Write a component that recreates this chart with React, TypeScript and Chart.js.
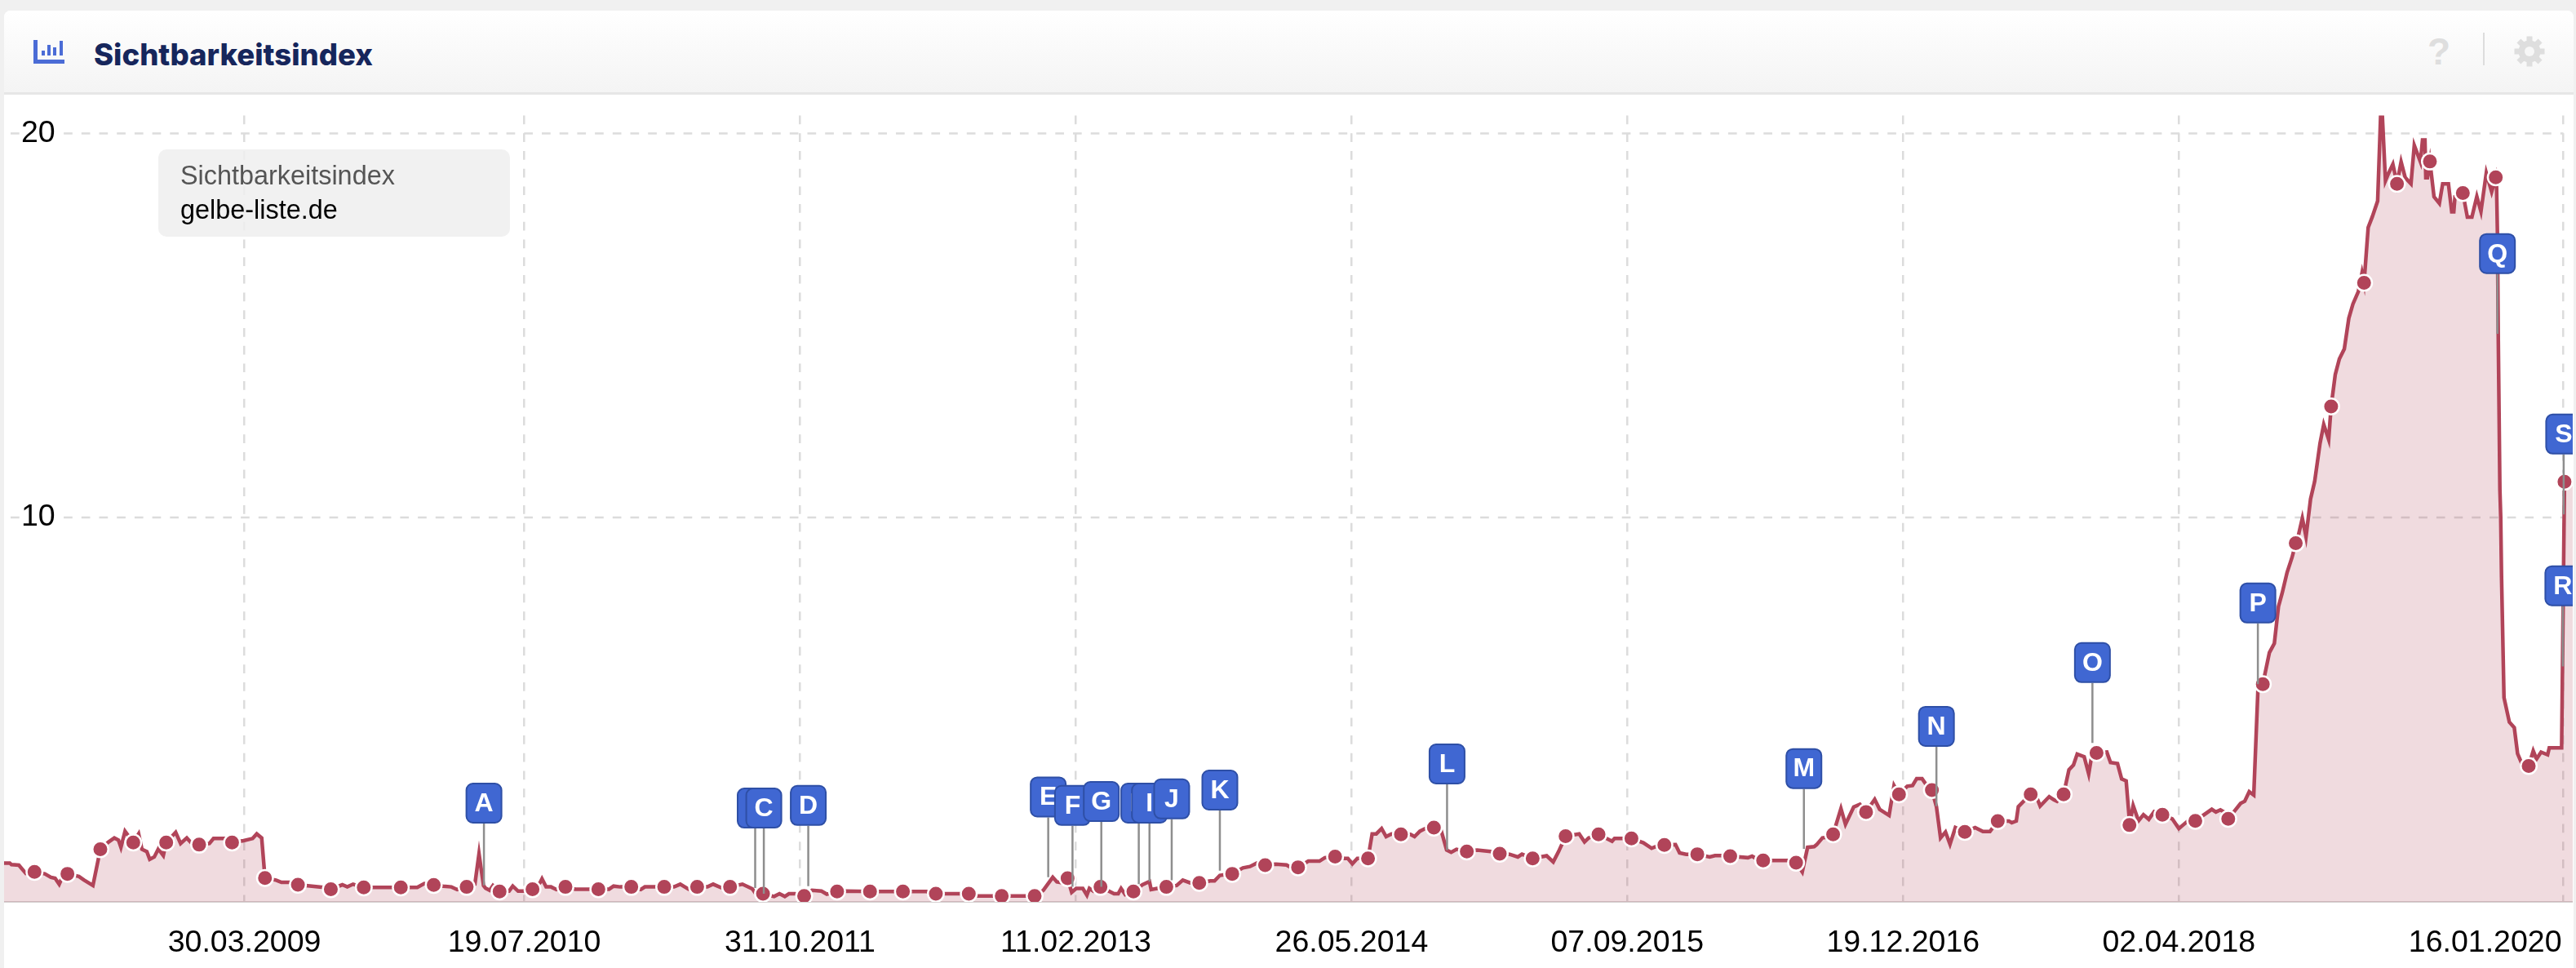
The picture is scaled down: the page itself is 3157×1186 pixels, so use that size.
import React, { useEffect, useRef } from "react";
import { Chart, registerables } from "chart.js";

Chart.register(...registerables);

const TITLE = "Sichtbarkeitsindex";
const DOMAIN = "gelbe-liste.de";
const tickLabels = ["30.03.2009", "19.07.2010", "31.10.2011", "11.02.2013", "26.05.2014", "07.09.2015", "19.12.2016", "02.04.2018", "16.01.2020"];
const yTicks = [10, 20];

// weeks counted from the Monday 30.03.2009
const weeksA = [-59, -58.4, -57, -56.6, -54.8, -53.1, -48.5, -47, -46, -45, -44.3, -40.2, -39, -36.8, -33, -31.6, -30.6, -30, -29, -25.7, -24.9, -23.7, -23, -21.9, -20.9, -19.7, -16.7, -15.5, -14, -13, -8.5, -7.5, -4.5, -0.2, 2, 3, 4.2, 7.7, 9, 11, 19.3, 23.8, 25, 26.4, 42, 43.7];
const valuesA = [1, 1, 1, 0.96, 0.947, 0.73, 0.72, 0.63, 0.605, 0.45, 0.62, 0.65, 0.56, 0.415, 1.55, 1.655, 1.6, 1.41, 1.83, 1.76, 1.36, 1.3, 1.1, 1.16, 1.37, 1.195, 1.8, 1.51, 1.655, 1.535, 1.51, 1.64, 1.64, 1.585, 1.64, 1.76, 1.655, 0.555, 0.5, 0.5, 0.365, 0.435, 0.38, 0.45, 0.365, 0.465];
const weeksB = [48.3, 50.3, 51.7, 56, 57, 58.1, 58.6, 59.6, 60.4, 64.3, 65.2, 66.5, 67.7, 71.8, 72.3, 73.3, 74.5, 75.8, 80.4, 83.7, 88.6, 89.7, 91.3, 96.3, 97.3, 104.4, 105.9, 107.9, 112.5, 113.9, 115.8, 121, 123.4, 124.7, 128.7, 130, 131.3, 132.3, 133.8, 137.9, 140.2, 141.5, 146.2];
const valuesB = [0.4, 0.38, 0.31, 0.45, 1.245, 0.415, 0.345, 0.29, 0.415, 0.27, 0.4, 0.27, 0.27, 0.485, 0.59, 0.38, 0.38, 0.31, 0.32, 0.32, 0.32, 0.4, 0.38, 0.31, 0.38, 0.38, 0.45, 0.32, 0.38, 0.45, 0.36, 0.45, 0.33, 0.13, 0.13, 0.2, 0.13, 0.2, 0.2, 0.29, 0.27, 0.19, 0.27];
const weeksC = [165.7, 170.3, 178.2, 189.8, 194.1, 196.4, 197.4, 198.7, 201, 202.1, 203.7, 204.7, 205.3, 206.3, 211.3, 212.3, 213, 214, 218.2, 219.9, 220.3, 221.8, 226.5, 228, 229.8, 234.7, 235.7, 237, 238.4, 242.6, 244.3, 246];
const valuesC = [0.26, 0.2, 0.145, 0.145, 0.29, 0.63, 0.51, 0.485, 0.24, 0.34, 0.34, 0.165, 0.34, 0.27, 0.2, 0.2, 0.34, 0.18, 0.435, 0.52, 0.31, 0.34, 0.415, 0.555, 0.485, 0.535, 0.535, 0.68, 0.7, 0.875, 0.91, 1.0];
const weeksD = [250.6, 253.2, 254.2, 258.5, 261.2, 262.5, 267.3, 268.1, 269.2, 270.4, 274, 275, 276.3, 277.4, 278.7, 283.3, 284.3, 285.6, 286.9, 290.5, 292.1, 293.2, 294.5, 299.5, 302.8, 307.4, 309.4, 310.4, 316.4, 318, 319.3, 324.3, 325.6, 326.6, 332.3, 332.9, 339.9, 341.9, 343.2, 347.7, 348.7, 350.3];
const valuesD = [0.97, 0.95, 0.89, 1.05, 1.05, 1.14, 1.12, 1.12, 0.98, 1.12, 1.76, 1.76, 1.9, 1.69, 1.76, 1.75, 1.69, 1.83, 1.9, 1.95, 1.34, 1.28, 1.36, 1.34, 1.3, 1.23, 1.16, 1.23, 1.19, 1.03, 1.3, 1.76, 1.55, 1.655, 1.57, 1.64, 1.53, 1.385, 1.44, 1.48, 1.265, 1.23];
const weeksE = [356, 357.3, 358.7, 365.3, 366.3, 367.3, 372.9, 375.2, 376.5, 378.5, 379.8, 381.4, 382, 383.4, 384.4, 387.9, 389, 391, 392.5, 396.1, 397.3, 399.6, 400.8, 404, 405.3, 406.3, 407.6, 408.9, 411.1, 412.1, 413.3, 414.4, 415.7, 420.5, 422.4, 424.1, 428.7, 429.4, 430.5, 431, 432.3, 435.7, 436.3, 438.5, 439.6, 440.4, 443.3, 444.4, 445.3, 447, 448.1, 448.9, 452.5, 453.4, 455.1, 456.1, 457.2, 457.9];
const valuesE = [1.16, 1.195, 1.195, 1.14, 1.18, 1.12, 1.07, 1.07, 0.945, 0.77, 1.41, 1.43, 1.48, 1.655, 1.67, 2.42, 2.01, 2.46, 2.53, 2.66, 2.4, 2.24, 3.02, 3, 3.02, 3.2, 3.2, 3, 2.47, 1.655, 1.81, 1.49, 1.925, 1.925, 1.82, 1.82, 2.095, 2.05, 2.095, 2.47, 2.61, 2.65, 2.485, 2.73, 2.65, 2.61, 3.43, 3.555, 3.84, 3.77, 3.32, 3.84, 3.89, 3.62, 3.59, 3.19, 3.14, 2.22];
const weeksF = [458.9, 460.2, 461.4, 462.7, 464, 468.4, 470, 472, 478, 479, 480.1, 481, 485, 486, 487.1, 488.2, 489.2, 492, 493.2, 494.2, 495.1, 496.3, 497.5, 499.1, 500, 500.9, 502, 503, 504.3, 505.2, 506.4, 508, 509, 510.2, 511.3, 512.3, 513.6, 514.5, 516, 517, 518.3];
const valuesF = [2.5, 2.1, 2.26, 2.14, 2.34, 2.15, 1.9, 2.08, 2.4, 2.33, 2.385, 2.33, 2.555, 2.61, 2.86, 2.77, 5.48, 6.48, 6.72, 7.68, 8.03, 8.57, 8.96, 9.56, 9.98, 9.5, 10.48, 10.94, 11.93, 12.42, 12.03, 13.72, 14.13, 14.39, 15.19, 15.56, 15.88, 16.37, 17.55, 17.83, 18.24];
const weeksG = [519.2, 520.2, 520.9, 522, 522.7, 524, 525, 526.4, 527.2, 528.7, 529.2, 529.8, 530, 530.4, 532, 533.3, 534.1, 535.5, 536.3, 536.8, 537.1, 540.1, 541.2, 542.4, 543.4, 544.7, 546, 547.2, 547.4, 547.6, 548, 548.2, 548.4, 549, 550.3, 551.5, 552.3, 553.3, 556.1, 556.9, 558, 559.6, 560, 563, 566];
const valuesG = [21, 18.77, 18.95, 19.2, 18.85, 19.26, 18.85, 18.69, 19.69, 19.26, 19.83, 19.83, 18.85, 18.85, 18.35, 18.18, 18.69, 18.69, 17.96, 17.96, 18.36, 17.82, 17.82, 18.36, 17.97, 18.97, 18.48, 18.6, 17.43, 14.78, 10.73, 10.02, 8.46, 5.31, 4.67, 4.53, 3.85, 3.6, 3.92, 3.71, 3.89, 3.82, 4, 4, 10.9];

const markerWeeks = [-51, -43, -35, -27, -19, -11, -3, 5, 13, 21, 29, 38, 46, 54, 62, 70, 78, 86, 94, 102, 110, 118, 126, 136, 144, 152, 160, 168, 176, 184, 192, 200, 208, 216, 224, 232, 240, 248, 256, 265, 273, 281, 289, 297, 305, 313, 321, 329, 337, 345, 353, 361, 369, 377, 386, 394, 402, 410, 418, 426, 434, 442, 450, 458, 466, 474, 482, 490.4, 498.4, 507, 515, 523, 531, 539, 547, 555, 563.7];
const markerValues = [0.77, 0.72, 1.36, 1.535, 1.535, 1.48, 1.535, 0.61, 0.435, 0.32, 0.365, 0.365, 0.43, 0.38, 0.26, 0.32, 0.38, 0.32, 0.38, 0.38, 0.38, 0.38, 0.2, 0.145, 0.26, 0.26, 0.26, 0.2, 0.2, 0.145, 0.145, 0.605, 0.38, 0.26, 0.38, 0.485, 0.72, 0.945, 0.89, 1.17, 1.12, 1.75, 1.925, 1.3, 1.245, 1.12, 1.7, 1.75, 1.64, 1.47, 1.23, 1.18, 1.067, 1.01, 1.75, 2.33, 2.79, 2.9, 1.81, 2.095, 2.79, 2.79, 3.87, 1.99, 2.26, 2.1, 2.15, 5.66, 9.33, 12.89, 16.11, 18.69, 19.27, 18.45, 18.86, 3.53, 10.93];

const flagLetters = ["A", "B", "C", "D", "E", "F", "G", "H", "I", "J", "K", "L", "M", "N", "O", "P", "Q", "R", "S"];
const flagWeeks = [58.2, 124.1, 126.2, 137, 195.3, 201.2, 208.2, 217.3, 219.9, 225.3, 237, 292.2, 378.9, 411.1, 449, 489.2, 547.4, 563.3, 563.5];
const flagBases = [0.42, 0.35, 0.2, 0.4, 0.63, 0.38, 0.38, 0.45, 0.52, 0.555, 0.8, 1.34, 1.37, 2.48, 4.13, 5.66, 14.78, 6.12, 10.08];
const flagLevels = [2.03, 1.9, 1.9, 1.97, 2.19, 1.97, 2.07, 2.03, 2.03, 2.14, 2.37, 3.05, 2.93, 4.03, 5.69, 7.24, 16.34, 7.69, 11.64];

const SANS = '"Liberation Sans", Arial, sans-serif';
const LINE = "#b14459";
const WEEK = 7 * 864e5;
const ORIGIN = Date.UTC(2009, 2, 30);
const toMs = (w: number) => ORIGIN + w * WEEK;
const parseTick = (s: string) => {
  const [d, m, y] = s.split(".").map(Number);
  return Date.UTC(y, m - 1, d);
};
const zip = (ws: number[], vs: number[]) => ws.map((w, i) => ({ x: toMs(w), y: vs[i] }));

const linePoints = [
  ...zip(weeksA, valuesA),
  ...zip(weeksB, valuesB),
  ...zip(weeksC, valuesC),
  ...zip(weeksD, valuesD),
  ...zip(weeksE, valuesE),
  ...zip(weeksF, valuesF),
  ...zip(weeksG, valuesG),
  ...zip(markerWeeks, markerValues),
].sort((a, b) => a.x - b.x);
const markerPoints = zip(markerWeeks, markerValues);

const chromePlugin = {
  id: "chrome",
  beforeDraw(chart: any) {
    const { ctx, scales } = chart;
    // horizontal dashed grid
    ctx.save();
    ctx.strokeStyle = "#dcdcdc";
    ctx.lineWidth = 2.5;
    ctx.setLineDash([10.7, 11]);
    yTicks.forEach((t) => {
      const y = scales.y.getPixelForValue(t);
      ctx.beginPath();
      ctx.moveTo(8, y);
      ctx.lineTo(scales.x.getPixelForValue(parseTick(tickLabels[tickLabels.length - 1])), y);
      ctx.stroke();
    });
    ctx.restore();
    // the last date label stays inside the card
    const items = scales.x.getLabelItems(chart.chartArea);
    const last = items[items.length - 1];
    if (last && last.options.textAlign !== "right") {
      last.options.textAlign = "right";
      last.options.translation[0] -= 2;
    }
  },
  afterDatasetsDraw(chart: any) {
    const { ctx, scales, chartArea } = chart;
    ctx.save();
    ctx.beginPath();
    ctx.rect(chartArea.left, chartArea.top, chartArea.width, chartArea.height);
    ctx.clip();
    flagLetters.forEach((letter, i) => {
      const x = scales.x.getPixelForValue(toMs(flagWeeks[i]));
      const base = scales.y.getPixelForValue(flagBases[i]);
      const bottom = scales.y.getPixelForValue(flagLevels[i]);
      ctx.strokeStyle = "#8e8e8e";
      ctx.lineWidth = 2.5;
      ctx.beginPath();
      ctx.moveTo(x, bottom);
      ctx.lineTo(x, base);
      ctx.stroke();
      ctx.beginPath();
      ctx.roundRect(x - 21.5, bottom - 49, 43, 48, 8);
      ctx.fillStyle = "#4067d2";
      ctx.fill();
      ctx.strokeStyle = "#2e4fa6";
      ctx.lineWidth = 2;
      ctx.stroke();
      ctx.fillStyle = "#ffffff";
      ctx.font = `bold 32px ${SANS}`;
      ctx.textAlign = "center";
      ctx.textBaseline = "middle";
      ctx.fillText(letter, x, bottom - 24);
    });
    ctx.restore();
  },
};

export default function App() {
  const ref = useRef<HTMLCanvasElement | null>(null);

  useEffect(() => {
    document.body.style.margin = "0";
    const chart = new Chart(ref.current as HTMLCanvasElement, {
      type: "line",
      data: {
        datasets: [
          {
            label: DOMAIN,
            data: markerPoints,
            showLine: false,
            pointRadius: 9.75,
            pointHoverRadius: 9.75,
            pointBorderWidth: 2.5,
            pointBackgroundColor: LINE,
            pointBorderColor: "#ffffff",
            order: 1,
          },
          {
            label: TITLE,
            data: linePoints,
            borderColor: LINE,
            borderWidth: 4.5,
            tension: 0,
            pointRadius: 0,
            borderJoinStyle: "miter",
            fill: "start",
            backgroundColor: "rgba(176,66,86,0.19)",
            order: 2,
          },
        ],
      },
      options: {
        responsive: false,
        devicePixelRatio: 1,
        animation: false,
        events: [],
        layout: { autoPadding: false, padding: { top: 26.6, left: 0, right: 0, bottom: 0 } },
        plugins: { legend: { display: false }, tooltip: { enabled: false } },
        scales: {
          x: {
            type: "linear",
            min: toMs(-58.39),
            max: toMs(565.7),
            afterBuildTicks: (s: any) => {
              s.ticks = tickLabels.map((l) => ({ value: parseTick(l) }));
            },
            afterFit: (s: any) => {
              s.height = 81;
              s.paddingLeft = 0;
              s.paddingRight = 0;
            },
            grid: { color: "#dcdcdc", lineWidth: 2.5, drawTicks: false, tickLength: 0 },
            border: { color: "#d6d2d2", width: 2, dash: [10.7, 11] },
            ticks: {
              autoSkip: false,
              maxRotation: 0,
              minRotation: 0,
              padding: 28,
              color: "#000000",
              font: { family: SANS, size: 37.5 },
              callback: (_v: any, i: number) => tickLabels[i],
            },
          },
          y: {
            type: "linear",
            min: -0.0106,
            max: 20.466,
            afterBuildTicks: (s: any) => {
              s.ticks = yTicks.map((value) => ({ value }));
            },
            afterFit: (s: any) => {
              s.width = 0;
              s.paddingTop = 0;
              s.paddingBottom = 0;
            },
            grid: { display: false, drawTicks: false },
            border: { display: false },
            ticks: {
              mirror: true,
              padding: 21,
              labelOffset: 0,
              color: "#000000",
              font: { family: SANS, size: 37.5 },
              showLabelBackdrop: true,
              backdropColor: "#ffffff",
              backdropPadding: { left: 1, right: 9, top: 0, bottom: 0 },
            },
          },
        },
      },
      plugins: [chromePlugin],
    } as any);
    return () => chart.destroy();
  }, []);

  return (
    <div style={{ position: "fixed", left: 0, top: 0, width: 3157, height: 1186, background: "#f0f0f0", overflow: "hidden" }}>
      <div style={{ position: "absolute", left: 5, top: 13, width: 3149, height: 1173, background: "#ffffff", borderRadius: "8px 8px 0 0", overflow: "hidden" }}>
        <div style={{ position: "absolute", left: 0, top: 0, width: 3149, height: 100, background: "linear-gradient(#ffffff, #f4f4f4)", borderBottom: "3px solid #e6e6e6" }} />
      </div>

      <svg width="40" height="32" viewBox="0 0 40 32" style={{ position: "absolute", left: 41, top: 48 }}>
        <g fill="#4b6cd6">
          <rect x="0" y="1" width="5" height="29" />
          <rect x="0" y="25" width="38" height="5" />
          <rect x="10" y="14" width="4" height="6" />
          <rect x="17" y="7" width="4" height="13" />
          <rect x="24" y="10" width="4" height="10" />
          <rect x="32" y="2" width="4" height="18" />
        </g>
      </svg>
      <div style={{ position: "absolute", left: 115, top: 44, fontFamily: "Inter, sans-serif", fontWeight: 800, fontSize: 36.5, lineHeight: "46px", color: "#16265c", whiteSpace: "nowrap" }}>{TITLE}</div>

      <div style={{ position: "absolute", left: 2974, top: 38, width: 30, fontFamily: SANS, fontWeight: 700, fontSize: 46, lineHeight: "50px", color: "#dedede", textAlign: "center" }}>?</div>
      <div style={{ position: "absolute", left: 3043, top: 40, width: 2, height: 40, background: "#dddddd" }} />
      <svg width="40" height="40" viewBox="-20 -20 40 40" style={{ position: "absolute", left: 3080, top: 43 }}>
        <g fill="#dedede">
          {[0, 45, 90, 135, 180, 225, 270, 315].map((a) => (
            <rect key={a} x="-3.5" y="-18.5" width="7" height="8" transform={`rotate(${a})`} />
          ))}
          <circle r="13.5" />
        </g>
        <circle r="6" fill="#f7f7f7" />
      </svg>

      <canvas ref={ref} width={3148} height={1071} style={{ position: "absolute", left: 5, top: 115, display: "block" }} />

      <div style={{ position: "absolute", left: 194, top: 183, width: 431, height: 107, borderRadius: 10, background: "rgba(238,238,238,0.85)" }} />
      <div style={{ position: "absolute", left: 221, top: 196, fontFamily: SANS, fontSize: 32.4, lineHeight: "38px", color: "#555555", whiteSpace: "nowrap" }}>{TITLE}</div>
      <div style={{ position: "absolute", left: 221, top: 238, fontFamily: SANS, fontSize: 32.4, lineHeight: "38px", color: "#000000", whiteSpace: "nowrap" }}>{DOMAIN}</div>
    </div>
  );
}
